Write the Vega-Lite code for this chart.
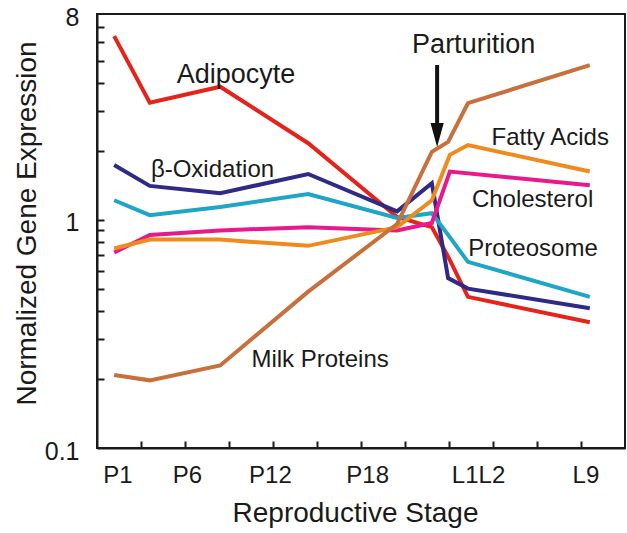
{
  "$schema": "https://vega.github.io/schema/vega-lite/v6.json",
  "width": 528,
  "height": 434,
  "autosize": "none",
  "padding": {"left": 97, "top": 14, "right": 2, "bottom": 85},
  "background": "white",
  "config": {
    "font": "Liberation Sans",
    "view": {"stroke": "#1a1a1a", "strokeWidth": 2},
    "axis": {
      "grid": false,
      "domainColor": "#1a1a1a",
      "domainWidth": 2,
      "tickColor": "#1a1a1a",
      "tickWidth": 2,
      "labelFont": "Liberation Sans",
      "labelFontSize": 24,
      "labelColor": "#1a1a1a",
      "titleFont": "Liberation Sans",
      "titleFontSize": 28,
      "titleFontWeight": "normal",
      "titleColor": "#1a1a1a"
    }
  },
  "datasets": {
    "series": [
      {"s": "Adipocyte", "x": 0.39, "v": 6.4},
      {"s": "Adipocyte", "x": 1.2, "v": 3.27},
      {"s": "Adipocyte", "x": 2.8, "v": 3.84},
      {"s": "Adipocyte", "x": 4.8, "v": 2.17},
      {"s": "Adipocyte", "x": 6.82, "v": 1.03},
      {"s": "Adipocyte", "x": 7.61, "v": 0.93},
      {"s": "Adipocyte", "x": 7.98, "v": 0.69},
      {"s": "Adipocyte", "x": 8.43, "v": 0.46},
      {"s": "Adipocyte", "x": 11.2, "v": 0.356},
      {"s": "Oxidation", "x": 0.39, "v": 1.74},
      {"s": "Oxidation", "x": 1.2, "v": 1.41},
      {"s": "Oxidation", "x": 2.8, "v": 1.31},
      {"s": "Oxidation", "x": 4.8, "v": 1.59},
      {"s": "Oxidation", "x": 6.82, "v": 1.09},
      {"s": "Oxidation", "x": 7.61, "v": 1.45},
      {"s": "Oxidation", "x": 7.98, "v": 0.556},
      {"s": "Oxidation", "x": 8.43, "v": 0.5},
      {"s": "Oxidation", "x": 11.2, "v": 0.41},
      {"s": "Proteosome", "x": 0.39, "v": 1.22},
      {"s": "Proteosome", "x": 1.2, "v": 1.05},
      {"s": "Proteosome", "x": 2.8, "v": 1.14},
      {"s": "Proteosome", "x": 4.8, "v": 1.3},
      {"s": "Proteosome", "x": 6.82, "v": 1.02},
      {"s": "Proteosome", "x": 7.61, "v": 1.07},
      {"s": "Proteosome", "x": 7.98, "v": 0.86},
      {"s": "Proteosome", "x": 8.43, "v": 0.655},
      {"s": "Proteosome", "x": 11.2, "v": 0.46},
      {"s": "Cholesterol", "x": 0.39, "v": 0.72},
      {"s": "Cholesterol", "x": 1.2, "v": 0.86},
      {"s": "Cholesterol", "x": 2.8, "v": 0.9},
      {"s": "Cholesterol", "x": 4.8, "v": 0.93},
      {"s": "Cholesterol", "x": 6.82, "v": 0.9},
      {"s": "Cholesterol", "x": 7.61, "v": 0.97},
      {"s": "Cholesterol", "x": 8.02, "v": 1.63},
      {"s": "Cholesterol", "x": 11.2, "v": 1.42},
      {"s": "Fatty", "x": 0.39, "v": 0.75},
      {"s": "Fatty", "x": 1.2, "v": 0.82},
      {"s": "Fatty", "x": 2.8, "v": 0.82},
      {"s": "Fatty", "x": 4.8, "v": 0.77},
      {"s": "Fatty", "x": 6.82, "v": 0.93},
      {"s": "Fatty", "x": 7.61, "v": 1.22},
      {"s": "Fatty", "x": 8.02, "v": 1.93},
      {"s": "Fatty", "x": 8.43, "v": 2.13},
      {"s": "Fatty", "x": 11.2, "v": 1.63},
      {"s": "Milk", "x": 0.39, "v": 0.209},
      {"s": "Milk", "x": 1.2, "v": 0.198},
      {"s": "Milk", "x": 2.8, "v": 0.23},
      {"s": "Milk", "x": 4.8, "v": 0.485},
      {"s": "Milk", "x": 6.82, "v": 0.96},
      {"s": "Milk", "x": 7.61, "v": 1.99},
      {"s": "Milk", "x": 7.98, "v": 2.2},
      {"s": "Milk", "x": 8.43, "v": 3.25},
      {"s": "Milk", "x": 11.2, "v": 4.77}
    ],
    "labels": [
      {"label": "β-Oxidation", "x": 2.625, "v": 1.55},
      {"label": "Fatty Acids", "x": 10.3, "v": 2.13},
      {"label": "Cholesterol", "x": 9.9, "v": 1.135},
      {"label": "Proteosome", "x": 9.91, "v": 0.695},
      {"label": "Milk Proteins", "x": 5.07, "v": 0.227}
    ],
    "labelsBig": [
      {"label": "Adipocyte", "x": 3.16, "v": 3.98},
      {"label": "Parturition", "x": 8.56, "v": 5.38}
    ],
    "arrow": [
      {"x": 7.73, "v": 4.78, "v2": 2.48, "tip": 2.36}
    ]
  },
  "layer": [
    {
      "data": {"name": "series"},
      "mark": {"type": "line", "strokeWidth": 4, "strokeJoin": "miter", "clip": true},
      "encoding": {
        "x": {
          "field": "x", "type": "quantitative",
          "scale": {"domain": [0, 12], "nice": false, "zero": false},
          "axis": {
            "orient": "bottom",
            "values": [1, 2, 3, 4, 5, 6, 7, 8, 9, 10, 11],
            "labels": false,
            "tickSize": -7,
            "domain": true,
            "title": null
          }
        },
        "y": {
          "field": "v", "type": "quantitative",
          "scale": {"type": "log", "domain": [0.1, 8], "nice": false},
          "axis": {
            "orient": "left",
            "values": [0.2, 0.3, 0.4, 0.5, 0.6, 0.7, 0.8, 0.9, 1, 2, 3, 4, 5, 6, 7],
            "labels": false,
            "tickSize": -7,
            "domain": true,
            "title": null
          }
        },
        "color": {
          "field": "s", "type": "nominal",
          "scale": {
            "domain": ["Adipocyte", "Oxidation", "Proteosome", "Cholesterol", "Fatty", "Milk"],
            "range": ["#e5231b", "#2f2a86", "#1ea5c8", "#e8198b", "#f08a1d", "#c8703c"]
          },
          "legend": null
        }
      }
    },
    {
      "data": {"name": "arrow"},
      "mark": {"type": "rule", "strokeWidth": 4, "color": "#111111"},
      "encoding": {
        "x": {"field": "x", "type": "quantitative", "axis": null},
        "y": {"field": "v", "type": "quantitative", "axis": null},
        "y2": {"field": "v2"}
      }
    },
    {
      "data": {"name": "arrow"},
      "mark": {"type": "point", "shape": "M-0.55,-1L0.55,-1L0,1Z", "size": 576, "filled": true, "color": "#111111", "opacity": 1},
      "encoding": {
        "x": {"field": "x", "type": "quantitative", "axis": null},
        "y": {"field": "tip", "type": "quantitative", "axis": null}
      }
    },
    {
      "data": {"name": "labels"},
      "mark": {"type": "text", "font": "Liberation Sans", "fontSize": 24, "color": "#1a1a1a", "align": "center", "baseline": "alphabetic"},
      "encoding": {
        "x": {
          "field": "x", "type": "quantitative",
          "axis": {
            "orient": "bottom",
            "values": [0.466, 2.045, 3.93, 6.14, 8.66, 11.1],
            "labelExpr": "datum.value < 1 ? 'P1' : (datum.value < 3 ? 'P6' : (datum.value < 5 ? 'P12' : (datum.value < 7 ? 'P18' : (datum.value < 10 ? 'L1L2' : 'L9'))))",
            "ticks": false,
            "tickSize": 0,
            "domain": false,
            "labelPadding": 15,
            "labelFlush": false,
            "labelOverlap": false,
            "title": "Reproductive Stage",
            "titlePadding": 12,
            "titleX": 258
          }
        },
        "y": {
          "field": "v", "type": "quantitative",
          "axis": {
            "orient": "left",
            "values": [0.1, 1, 8],
            "labelExpr": "datum.value < 0.5 ? '0.1' : (datum.value < 2 ? '1' : '8')",
            "ticks": false,
            "tickSize": 0,
            "domain": false,
            "labelPadding": 18,
            "labelOffset": 3,
            "labelFlush": false,
            "labelOverlap": false,
            "labelFontSize": 25,
            "title": "Normalized Gene Expression",
            "titlePadding": 3,
            "titleY": 209
          }
        },
        "text": {"field": "label"}
      }
    },
    {
      "data": {"name": "labelsBig"},
      "mark": {"type": "text", "font": "Liberation Sans", "fontSize": 27, "color": "#1a1a1a", "align": "center", "baseline": "alphabetic"},
      "encoding": {
        "x": {"field": "x", "type": "quantitative", "axis": null},
        "y": {"field": "v", "type": "quantitative", "axis": null},
        "text": {"field": "label"}
      }
    }
  ],
  "resolve": {"axis": {"x": "independent", "y": "independent"}}
}
